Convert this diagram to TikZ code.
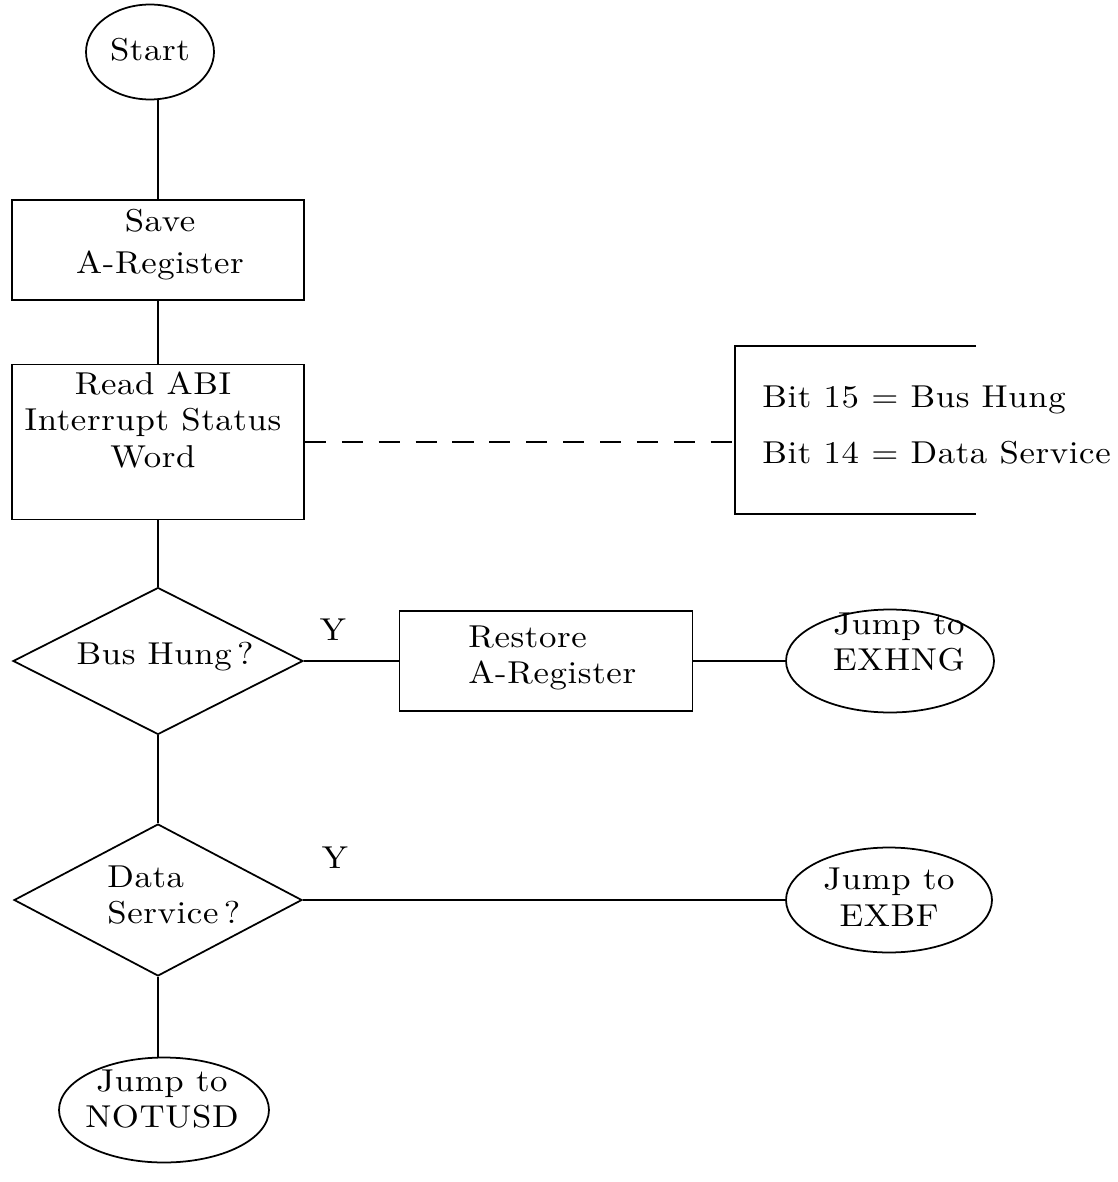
\documentclass[tikz,border=0pt]{standalone}
\usepackage{fontspec}
\setmainfont{lmroman10-regular}[Extension=.otf, FakeStretch=1.1, LetterSpace=2]
\usetikzlibrary{shapes.geometric}
\begin{document}
\begin{tikzpicture}[x=0.02cm, y=0.02cm,
		box/.style={rectangle, draw, line width=1pt},
		decision/.style={diamond, draw, line width=1pt, inner sep=0pt},
		term/.style={ellipse, draw, line width=1pt, inner sep=0pt},
		txt/.style={align=center, inner sep=0pt, font=\fontsize{18}{21}\selectfont},
		link/.style={line width=1pt}]
				\useasboundingbox (0, 0) rectangle (1117, -1182);

				% 図形
				\node[term, minimum width=2.56cm, minimum height=1.9cm] (start) at (150, -52) {};
				\node[box, minimum width=5.84cm, minimum height=2cm] (save) at (158, -250) {};
				\node[box, minimum width=5.84cm, minimum height=3.1cm] (read) at (158, -442) {};
				\node[decision, minimum width=5.8cm, minimum height=2.94cm] (bushung) at (158, -661) {};
				\node[box, minimum width=5.86cm, minimum height=2cm] (restore) at (546, -661) {};
				\node[term, minimum width=4.16cm, minimum height=2.06cm] (exhng) at (890, -661) {};
				\node[decision, minimum width=5.76cm, minimum height=3.04cm] (dataserv) at (158, -900) {};
				\node[term, minimum width=4.12cm, minimum height=2.1cm] (exbf) at (889, -900) {};
				\node[term, minimum width=4.2cm, minimum height=2.1cm] (notusd) at (164, -1110) {};

				% 右の括弧
				\coordinate (bitsL) at (735, -442);
				\coordinate (bitsTop) at (976, -346);
				\coordinate (bitsBot) at (976, -514);
				\draw[link] (bitsTop) -- (bitsTop -| bitsL) -- (bitsBot -| bitsL) -- (bitsBot);

				% 線を描く
				\draw[link] (save.north) -- (save.north |- start.south);
				\draw[link] (save) -- (read);
				\draw[link] (read) -- (bushung);
				\draw[link] (bushung) -- (dataserv);
				\draw[link] (dataserv.south) -- (dataserv.south |- notusd.north);
				\draw[link] (bushung.east) -- (restore.west);
				\draw[link] (restore) -- (exhng);
				\draw[link] (dataserv.east) -- (exbf.west);
				\draw[link, dash pattern=on 12pt off 9pt] (read.east) -- (bitsL);

				% 文字を入れる
				\node[txt] (tstart) at (150, -50) {Start};
				\node[txt] (tsave) at (160, -245) {Save\\[3pt]A-Register};
				\node[txt] (tread) at (153, -420) {Read ABI\\Interrupt Status\\Word};
				\node[txt, align=left, anchor=west] (tbits) at (762, -425) {Bit 15 = Bus Hung\\[11pt]Bit 14 = Data Service};
				\node[txt] (tbushung) at (165, -657) {Bus Hung\,?};
				\node[txt] (tyes1) at (333, -630) {Y};
				\node[txt, align=left, anchor=west] (trestore) at (468, -658) {Restore\\A-Register};
				\node[txt] (texhng) at (899, -642) {Jump to\\EXHNG};
				\node[txt, align=left, anchor=west] (tdataserv) at (107, -895) {Data\\Service\,?};
				\node[txt] (tyes2) at (335, -858) {Y};
				\node[txt] (texbf) at (889, -897) {Jump to\\EXBF};
				\node[txt] (tnotusd) at (162, -1099) {Jump to\\NOTUSD};
			\end{tikzpicture}
\end{document}
